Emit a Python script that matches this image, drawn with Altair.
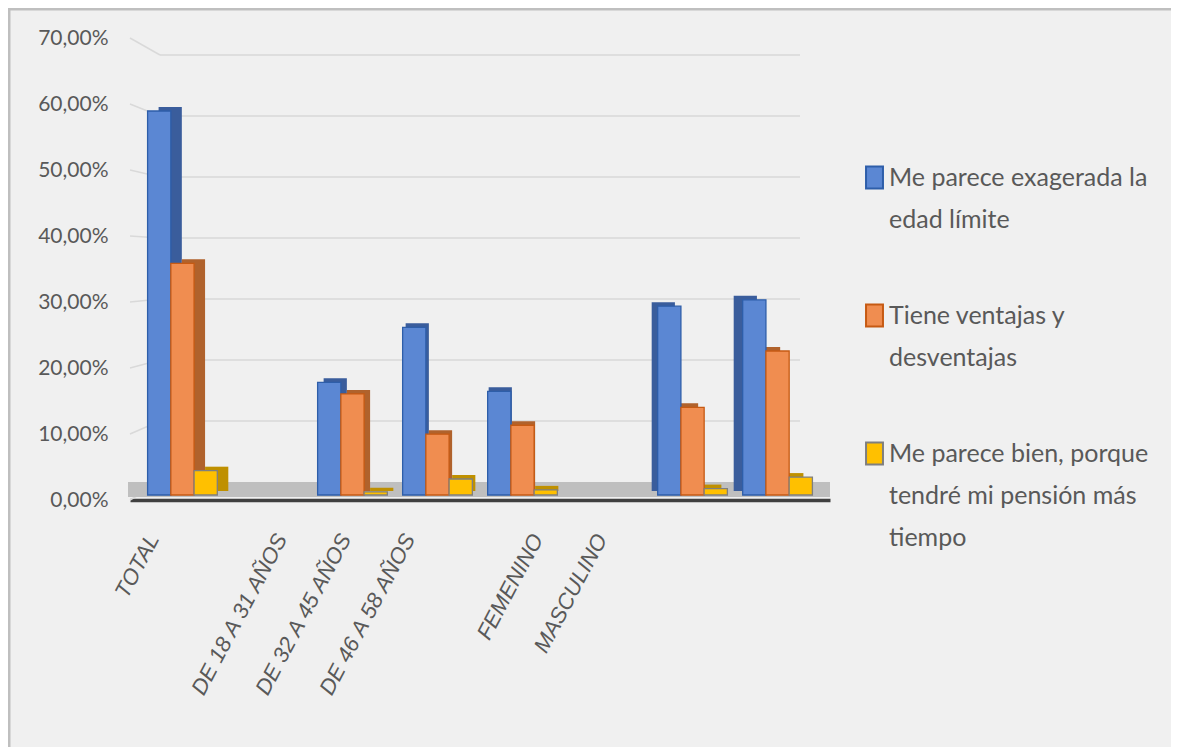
import altair as alt
import pandas as pd

# ---------------- data ----------------
categories = ["TOTAL", "DE 18 A 31 AÑOS", "DE 32 A 45 AÑOS", "DE 46 A 58 AÑOS", "FEMENINO", "MASCULINO"]
slots = ["TOTAL", " ", "DE 18 A 31 AÑOS", "DE 32 A 45 AÑOS", "DE 46 A 58 AÑOS", "  ", "FEMENINO", "MASCULINO"]
series = [
    "Me parece exagerada la edad límite",
    "Tiene ventajas y desventajas",
    "Me parece bien, porque tendré mi pensión más tiempo",
]
series_lines = [
    ["Me parece exagerada la", "edad límite"],
    ["Tiene ventajas y", "desventajas"],
    ["Me parece bien, porque", "tendré mi pensión más", "tiempo"],
]
exagerada = [0.600, 0.176, 0.262, 0.162, 0.295, 0.305]
ventajas = [0.362, 0.158, 0.095, 0.109, 0.137, 0.225]
bien = [0.038, 0.005, 0.025, 0.008, 0.010, 0.028]
y_ticks = [0.0, 0.1, 0.2, 0.3, 0.4, 0.5, 0.6, 0.7]

# styling
front_colors = ["#5b87d3", "#f08d50", "#ffc000"]
stroke_colors = ["#2e5ea9", "#c65a13", "#7f7f7f"]
side_colors = ["#3a5d9c", "#b0622c", "#bf9000"]
side_shift = {"TOTAL": 11, "DE 18 A 31 AÑOS": 6, "DE 32 A 45 AÑOS": 3,
              "DE 46 A 58 AÑOS": 1, "FEMENINO": -6, "MASCULINO": -9}
FONT = "Lato"
TXT = "#595959"
W, H = 700, 462
# back wall (perspective) : front scale 660 px per unit from bottom, back wall 610 px per unit, 18 px higher
BACK_FACTOR, BACK_LIFT = 610 / 660, 18 / 660

rows = []
for i, c in enumerate(categories):
    for k, (s, vals) in enumerate(zip(series, [exagerada, ventajas, bien])):
        rows.append({"cat": c, "serie": s, "idx": k, "valor": vals[i]})
df = pd.DataFrame(rows)

# legend multi-line labels
expr = ""
for s, lines in zip(series[:-1], series_lines[:-1]):
    arr = "[" + ",".join("'" + l + "'" for l in lines) + "]"
    expr += f"datum.label == '{s}' ? {arr} : "
expr += "[" + ",".join("'" + l + "'" for l in series_lines[-1]) + "]"

bar_y_scale = alt.Scale(domain=[0, 0.7], range=[457, 9])
xoff = alt.XOffset("serie:N", scale=alt.Scale(domain=series, paddingInner=0, paddingOuter=0))


def bar_x_scale(shift=0):
    return alt.Scale(domain=slots, paddingInner=0.18, paddingOuter=0.207, range=[shift, W + shift])


legend = alt.Legend(
    title=None, orient="none", legendX=732, legendY=127,
    labelExpr=expr, labelFont=FONT, labelFontSize=25, labelColor=TXT,
    labelLimit=400, symbolType="M-0.77,-1H0.77V1H-0.77Z", symbolSize=484,
    symbolStrokeWidth=2, rowPadding=67, labelOffset=2,
)

one = pd.DataFrame({"k": [0]})
ticks_df = pd.DataFrame({"v": y_ticks})

# border (top & left) of the chart frame
border_left = alt.Chart(one).mark_rule(color="#bfbfbf", strokeWidth=3).encode(
    x=alt.value(-121), y=alt.value(-30), y2=alt.value(709))
border_top = alt.Chart(one).mark_rule(color="#bfbfbf", strokeWidth=3).encode(
    x=alt.value(-122), x2=alt.value(1041), y=alt.value(-29))

# back-wall gridlines
grid = alt.Chart(pd.DataFrame({"v": y_ticks[1:]})).mark_rule(color="#d9d9d9", strokeWidth=1.5).encode(
    y=alt.Y("v:Q", scale=alt.Scale(domain=[0, 0.7], range=[444, 17]), axis=None),
    x=alt.value(30), x2=alt.value(670),
)

# side-wall connectors from the front axis to the back wall
connectors = alt.Chart(ticks_df).transform_calculate(
    back=f"datum.v * {BACK_FACTOR} + {BACK_LIFT}"
).mark_rule(color="#d9d9d9", strokeWidth=1.5).encode(
    y=alt.Y("v:Q", scale=alt.Scale(domain=[0, 0.7]), axis=None),
    y2="back:Q",
    x=alt.value(0), x2=alt.value(30),
)

# floor
floor = alt.Chart(one).mark_rect(color="#bfbfbf").encode(
    x=alt.value(-2), x2=alt.value(700), y=alt.value(444), y2=alt.value(459))

# y axis (front labels)
yaxis = alt.Chart(ticks_df).mark_point(opacity=0).encode(
    y=alt.Y("v:Q", scale=alt.Scale(domain=[0, 0.7]),
            axis=alt.Axis(values=y_ticks, labelExpr="replace(format(datum.value, '.2%'), '.', ',')",
                          grid=False, domain=False, ticks=False, labelPadding=22,
                          labelFont=FONT, labelFontSize=21, labelColor=TXT, title=None)),
)

# side faces of the bars (3D look)
sides = []
for c in categories:
    sides.append(
        alt.Chart(df).transform_filter(alt.datum.cat == c)
        .mark_bar(yOffset=-4)
        .encode(
            x=alt.X("cat:N", scale=bar_x_scale(side_shift[c]), axis=None),
            xOffset=xoff,
            y=alt.Y("valor:Q", scale=bar_y_scale, axis=None),
            fill=alt.Fill("idx:O", scale=alt.Scale(domain=[0, 1, 2], range=side_colors), legend=None),
        )
    )

front = alt.Chart(df).mark_bar(strokeWidth=1.3).encode(
    x=alt.X("cat:N", scale=bar_x_scale(0),
            axis=alt.Axis(orient="bottom", labels=False, ticks=False, domainColor="#404040",
                          domainWidth=3.5, title=None, grid=False)),
    xOffset=xoff,
    y=alt.Y("valor:Q", scale=bar_y_scale, axis=None),
    color=alt.Color("serie:N", scale=alt.Scale(domain=series, range=front_colors), legend=legend),
    stroke=alt.Stroke("serie:N", scale=alt.Scale(domain=series, range=stroke_colors), legend=legend),
)

# category labels (perspective-projected positions)
xlabels = alt.Chart(pd.DataFrame({"cat": slots})).mark_point(opacity=0).encode(
    x=alt.X("cat:N", scale=alt.Scale(type="point", domain=slots, range=[-9, 503], padding=0.5),
            axis=alt.Axis(orient="bottom", labelAngle=-62, labelAlign="right", labelBaseline="middle",
                          labelPadding=35, domain=False, ticks=False, labelFont="Liberation Sans",
                          labelFontStyle="italic", labelFontSize=22, labelColor=TXT,
                          title=None, labelLimit=300)),
)

chart = alt.layer(border_left, border_top, grid, connectors, floor, yaxis, *sides, front, xlabels).resolve_scale(
    x="independent", y="independent"
).properties(
    width=W, height=H,
    padding={"left": 122, "top": 30, "right": 341, "bottom": 247},
    autosize=alt.AutoSizeParams(type="none"),
    background="#f0f0f0",
).configure(style={"guide-label": {"lineHeight": 42}}).configure_view(stroke=None)

chart.save("out.html", embed_options={"renderer": "svg", "actions": False})
